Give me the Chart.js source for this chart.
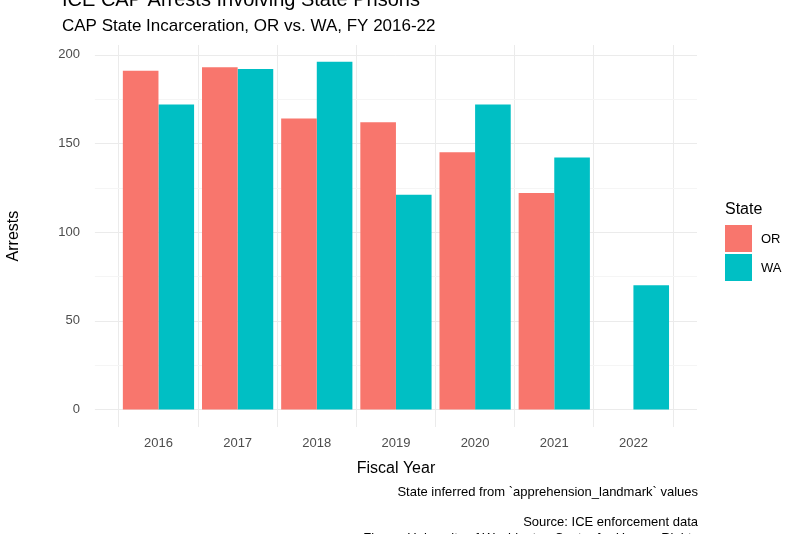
<!DOCTYPE html>
<html>
<head>
<meta charset="utf-8">
<script src="https://cdn.jsdelivr.net/npm/chart.js@4"></script>
<style>
  html, body { margin: 0; padding: 0; background: #fff; }
  #wrap { width: 800px; height: 534px; }
</style>
</head>
<body>
<div id="wrap"><canvas id="chart" width="800" height="534"></canvas></div>
<script>
// data
const years = ['2016', '2017', '2018', '2019', '2020', '2021', '2022'];
const orArrests = [191, 193, 164, 162, 145, 122, null];
const waArrests = [172, 192, 196, 121, 172, 142, 70];
const yTicks = [0, 25, 50, 75, 100, 125, 150, 175, 200];

const FONT = '"Liberation Sans", Arial, sans-serif';
const PANEL_EXTRA = 24; // ggplot's discrete expansion beyond the outer categories

// horizontal grid lines spanning the whole panel
const panelGrid = {
  id: 'panelGrid',
  beforeDatasetsDraw(chart) {
    const c = chart.ctx, a = chart.chartArea, y = chart.scales.y;
    c.save();
    c.lineWidth = 1;
    yTicks.forEach(v => {
      const py = Math.round(y.getPixelForValue(v)) + 0.5;
      c.strokeStyle = v % 50 === 0 ? '#ebebeb' : '#f5f5f5';
      c.beginPath();
      c.moveTo(a.left - PANEL_EXTRA, py);
      c.lineTo(a.right + PANEL_EXTRA, py);
      c.stroke();
    });
    c.restore();
  }
};

// titles, captions and legend drawn on the canvas
const decorations = {
  id: 'decorations',
  afterDraw(chart) {
    const c = chart.ctx;
    c.save();
    c.fillStyle = '#000';
    c.textBaseline = 'alphabetic';
    c.textAlign = 'left';
    c.font = '20px ' + FONT;
    c.fillText('ICE CAP Arrests Involving State Prisons', 62, 6);
    c.font = '17px ' + FONT;
    c.fillText('CAP State Incarceration, OR vs. WA, FY 2016-22', 62, 31);

    c.textAlign = 'right';
    c.font = '13px ' + FONT;
    c.fillText('State inferred from `apprehension_landmark` values', 698, 496);
    c.fillText('Source: ICE enforcement data', 698, 526);
    c.fillText('Figure: University of Washington Center for Human Rights', 698, 542);

    // legend
    c.textAlign = 'left';
    c.font = '16px ' + FONT;
    c.fillText('State', 725, 214);
    c.font = '13px ' + FONT;
    chart.data.datasets.forEach((ds, i) => {
      const y = 225 + i * 29;
      c.fillStyle = ds.backgroundColor;
      c.fillRect(725, y, 27, 27);
      c.fillStyle = '#000';
      c.fillText(ds.label, 761, y + 18);
    });
    c.restore();
  }
};

new Chart(document.getElementById('chart').getContext('2d'), {
  type: 'bar',
  data: {
    labels: years,
    datasets: [
      { label: 'OR', data: orArrests, backgroundColor: '#F8766D', categoryPercentage: 0.9, barPercentage: 1 },
      { label: 'WA', data: waArrests, backgroundColor: '#00BFC4', categoryPercentage: 0.9, barPercentage: 1 }
    ]
  },
  options: {
    responsive: false,
    animation: false,
    layout: { padding: { top: 45, right: 127, bottom: 52, left: 0 } },
    plugins: { legend: { display: false }, tooltip: { enabled: false } },
    scales: {
      x: {
        grid: { offset: true, color: '#ebebeb', drawTicks: false },
        border: { display: false },
        ticks: { color: '#4d4d4d', font: { family: FONT, size: 13 }, padding: 8 },
        title: { display: true, text: 'Fiscal Year', color: '#000', font: { family: FONT, size: 16 }, padding: { top: 0 } }
      },
      y: {
        min: -10,
        max: 205.5,
        afterBuildTicks: axis => { axis.ticks = yTicks.map(v => ({ value: v })); },
        grid: { display: false },
        border: { display: false },
        ticks: {
          color: '#4d4d4d',
          font: { family: FONT, size: 13 },
          padding: 31,
          callback: v => (v % 50 === 0 ? v : '')
        },
        title: { display: true, text: 'Arrests', color: '#000', font: { family: FONT, size: 16 }, padding: { bottom: 4 } }
      }
    }
  },
  plugins: [panelGrid, decorations]
});
</script>
</body>
</html>
